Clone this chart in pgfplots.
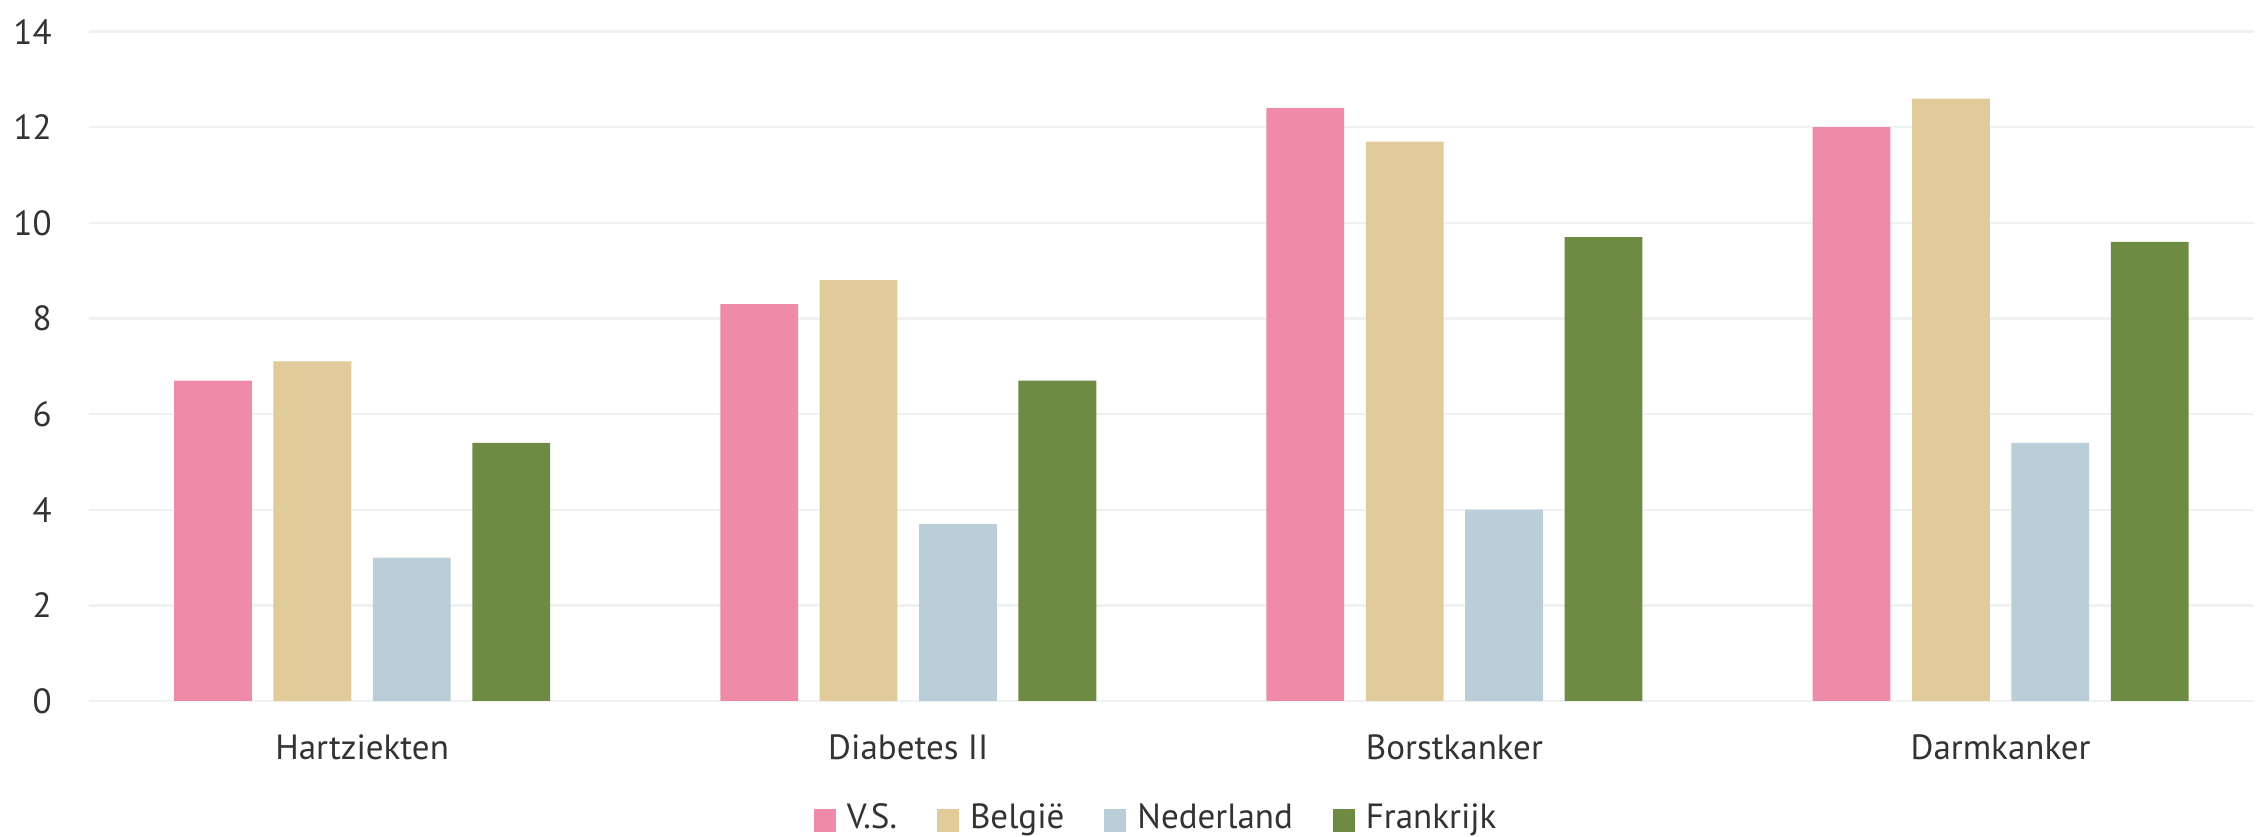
\documentclass[border=0pt]{standalone}
\usepackage{fontspec}
\setmainfont{PT Sans}
\usepackage{pgfplots}
\pgfplotsset{compat=1.18}

\definecolor{vs}{HTML}{EF8AA8}
\definecolor{be}{HTML}{E1CB9B}
\definecolor{nl}{HTML}{B9CED6}
\definecolor{fr}{HTML}{6E8A43}
\definecolor{gridc}{HTML}{EFF2F2}
\definecolor{txt}{HTML}{333333}

\begin{document}
\begin{tikzpicture}
\begin{axis}[
  scale only axis,
  width=1082.5pt, height=334.7pt,
  ybar=10.8pt, bar width=38.9pt,
  xmin=-0.5, xmax=3.464,
  ymin=0, ymax=14,
  ytick={0,2,...,14},
  xtick={0,1,2,3},
  xticklabels={Hartziekten, Diabetes II, Borstkanker, Darmkanker},
  ymajorgrids,
  grid style={gridc, line width=1.2pt},
  axis line style={draw=none},
  major tick length=0pt,
  font=\fontsize{17.5}{21}\selectfont,
  /pgf/number format/assume math mode=true,
  tick label style={text=txt},
  yticklabel style={anchor=east, inner sep=0pt, xshift=-18.5pt},
  xticklabel style={anchor=base, inner sep=0pt, yshift=-29.5pt},
  legend columns=-1,
  legend style={draw=none, at={(0.4934,0)}, anchor=center, yshift=-58.5pt,
    inner sep=0pt, font=\fontsize{17.5}{21}\selectfont, text=txt,
    /tikz/every even column/.append style={column sep=18pt}},
  legend image code/.code={%
    \fill[#1] (0pt,-7pt) rectangle (11pt,4.3pt);
    \path (14.5pt,0pt);},
  every axis plot/.append style={draw=none},
]
\addplot[fill=vs] coordinates {(0,6.7) (1,8.3) (2,12.4) (3,12.0)};
\addplot[fill=be] coordinates {(0,7.1) (1,8.8) (2,11.7) (3,12.6)};
\addplot[fill=nl] coordinates {(0,3.0) (1,3.7) (2,4.0) (3,5.4)};
\addplot[fill=fr] coordinates {(0,5.4) (1,6.7) (2,9.7) (3,9.6)};
\legend{V.S., België, Nederland, Frankrijk}
\end{axis}
\pgfresetboundingbox
\useasboundingbox (current axis.south west) ++(-44.5pt,-68pt) rectangle ([xshift=1.5pt,yshift=15.8pt]current axis.north east);
\end{tikzpicture}
\end{document}
